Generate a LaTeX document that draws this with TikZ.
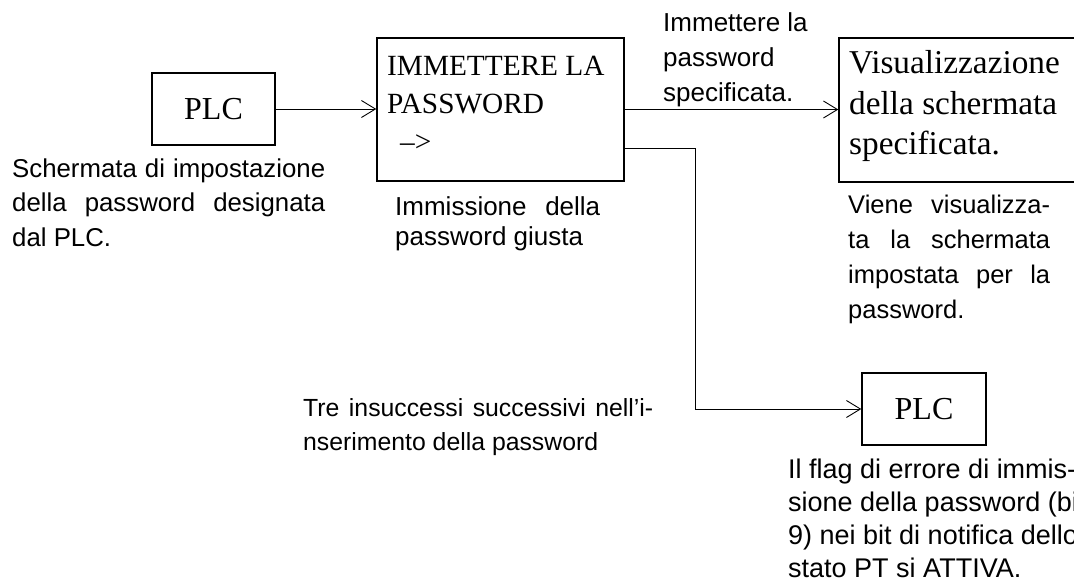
\documentclass[tikz,border=0pt]{standalone}
\usepackage{fontspec}
\setmainfont{Liberation Serif}
\setsansfont{Liberation Sans}
\usetikzlibrary{arrows.meta}
\begin{document}
\begin{tikzpicture}[x=1pt,y=-1pt,
  box/.style={draw,line width=1.4pt,inner sep=0pt},
  conn/.style={line width=0.9pt,-{Straight Barb[length=14pt,width=17pt,line width=0.9pt]}},
  lbl/.style={anchor=base west,inner sep=0pt,font=\sffamily},
  rlbl/.style={anchor=base west,inner sep=0pt,font=\rmfamily}]
\useasboundingbox (0,0) rectangle (1074,578);
% boxes
\node[box,minimum width=123pt,minimum height=72pt,font=\fontsize{32}{38}\selectfont] (b1) at (213.5,109) {PLC};
\node[box,minimum width=247pt,minimum height=143pt] (b2) at (500.5,109.5) {};
\node[box,minimum width=246pt,minimum height=144pt] (b3) at (962,110) {};
\node[box,minimum width=124pt,minimum height=72pt,font=\fontsize{32}{38}\selectfont] (b4) at (924,409) {PLC};
% box texts
\node[rlbl] (t2) at (387,75) {\fontsize{29.3}{38.5}\selectfont\vtop{\hbox{IMMETTERE LA}\hbox{PASSWORD}\hbox{\hspace{13pt}\textendash>}}};
\node[rlbl] (t3) at (849,74) {\fontsize{33.3}{40.5}\selectfont\vtop{\hbox{Visualizzazione}\hbox{della schermata}\hbox{specificata.}}};
% labels
\node[lbl] (l1) at (12,177) {\fontsize{25.8}{34.5}\selectfont\vtop{\hbox{\makebox[313pt][s]{Schermata di impostazione}}\hbox{\makebox[313pt][s]{della password designata}}\hbox{dal PLC.}}};
\node[lbl] (l2) at (663,32) {\fontsize{26}{35}\selectfont\vtop{\hbox{Immettere la}\hbox{password}\hbox{specificata.}}};
\node[lbl] (l3) at (395,215) {\fontsize{26}{30}\selectfont\vtop{\hbox{\makebox[205pt][s]{Immissione della}}\hbox{password giusta}}};
\node[lbl] (l4) at (848,213) {\fontsize{25.5}{35}\selectfont\vtop{\hbox{\makebox[202pt][s]{Viene visualizza-}}\hbox{\makebox[202pt][s]{ta la schermata}}\hbox{\makebox[202pt][s]{impostata per la}}\hbox{password.}}};
\node[lbl] (l5) at (303,416) {\fontsize{24.8}{34}\selectfont\vtop{\hbox{\makebox[350pt][s]{Tre insuccessi successivi nell’i-}}\hbox{nserimento della password}}};
\node[lbl] (l6) at (788,478) {\fontsize{27}{33.3}\selectfont\vtop{\hbox{Il flag di errore di immis-}\hbox{sione della password (bit}\hbox{9) nei bit di notifica dello}\hbox{stato PT si ATTIVA.}}};
% connectors
\coordinate (j) at (695,148);
\draw[conn] (b1.east) -- (b1.east -| b2.west);
\draw[conn] (b2.east) -- (b2.east -| b3.west);
\draw[conn] (b2.east |- j) -- (j) |- (b4.west);
\end{tikzpicture}
\end{document}
